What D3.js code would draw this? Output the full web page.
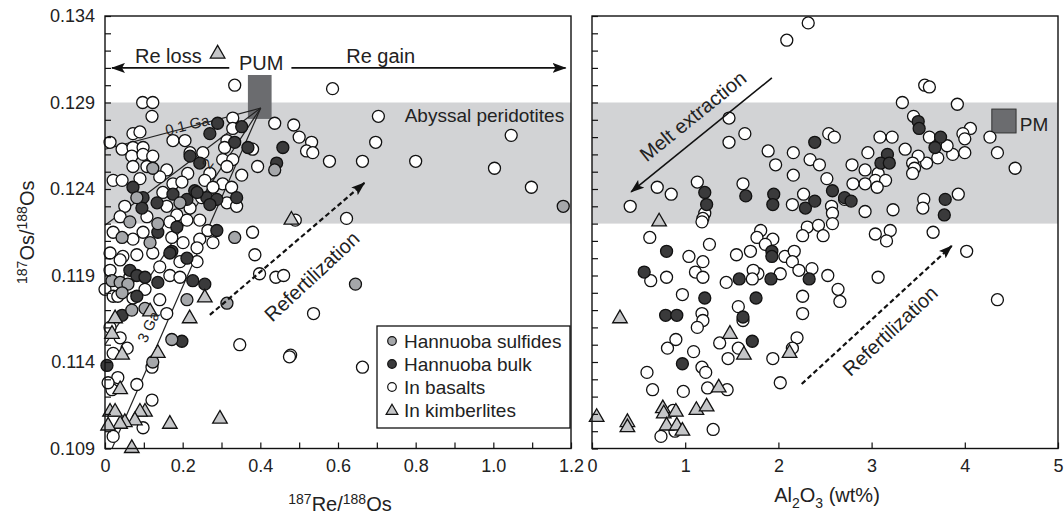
<!DOCTYPE html>
<html>
<head>
<meta charset="utf-8">
<script src="https://cdn.jsdelivr.net/npm/d3@7"></script>
<style>
  body { margin: 0; background: #fff; }
  svg text { font-family: "Liberation Sans", Arial, sans-serif; fill: #222; }
</style>
</head>
<body>
<script>
// ---- data ----
// left panel: [187Re/188Os, 187Os/188Os]
var leftBasalts = [
  [0.334,0.1300],[0.097,0.1290],[0.123,0.1290],[0.121,0.1282],[0.437,0.1278],[0.486,0.1277],
  [0.500,0.1270],[0.532,0.1267],[0.519,0.1262],[0.535,0.1261],[0.586,0.1298],[0.704,0.1282],
  [0.697,0.1267],[0.578,0.1256],[0.663,0.1256],[0.800,0.1256],[1.003,0.1252],[1.046,0.1271],
  [1.098,0.1241],[0.622,0.1223],[0.490,0.1222],[0.380,0.1215],[0.386,0.1202],[0.398,0.1191],
  [0.440,0.1189],[0.460,0.1190],[0.537,0.1168],[0.478,0.1144],[0.663,0.1137],[0.347,0.1150],
  [0.475,0.1143],[0.329,0.1281],[0.329,0.1275],[0.314,0.1268],[0.380,0.1263],[0.013,0.1267],
  [0.072,0.1272],[0.090,0.1273],[0.175,0.1268],[0.206,0.1268],[0.044,0.1263],[0.072,0.1264],
  [0.098,0.1264],[0.069,0.1259],[0.098,0.1260],[0.123,0.1259],[0.219,0.1261],[0.252,0.1261],
  [0.308,0.1264],[0.303,0.1257],[0.329,0.1257],[0.314,0.1253],[0.393,0.1253],[0.072,0.1253],
  [0.108,0.1253],[0.159,0.1251],[0.141,0.1247],[0.021,0.1245],[0.044,0.1245],[0.090,0.1246],
  [0.213,0.1249],[0.270,0.1249],[0.257,0.1245],[0.352,0.1248],[0.303,0.1243],[0.278,0.1241],
  [0.326,0.1241],[0.175,0.1243],[0.198,0.1244],[0.149,0.1238],[0.249,0.1235],[0.314,0.1232],
  [0.339,0.1230],[0.051,0.1230],[0.159,0.1230],[0.219,0.1229],[0.039,0.1224],[0.108,0.1224],
  [0.185,0.1225],[0.167,0.1221],[0.211,0.1222],[0.244,0.1222],[0.265,0.1216],[0.021,0.1215],
  [0.072,0.1211],[0.098,0.1215],[0.172,0.1212],[0.201,0.1209],[0.244,0.1211],[0.237,0.1206],
  [0.278,0.1209],[0.013,0.1203],[0.046,0.1201],[0.082,0.1202],[0.123,0.1203],[0.237,0.1198],
  [0.193,0.1198],[0.013,0.1193],[0.064,0.1189],[0.141,0.1195],[0.167,0.1190],[0.193,0.1189],
  [0.000,0.1182],[0.021,0.1178],[0.013,0.1160],[0.039,0.1154],[0.057,0.1148],[0.021,0.1145],
  [0.033,0.1131],[0.018,0.1124],[0.008,0.1128],[0.082,0.1127],[0.121,0.1118],[0.121,0.1137],
  [0.159,0.1168],[0.098,0.1102],[0.021,0.1097],[0.033,0.1178],[0.072,0.1177],[0.103,0.1182],
  [0.141,0.1176],[0.039,0.1199]
];
var leftBulk = [
  [0.290,0.1278],[0.352,0.1276],[0.270,0.1272],[0.334,0.1267],[0.368,0.1264],[0.458,0.1264],
  [0.442,0.1255],[0.219,0.1259],[0.244,0.1255],[0.072,0.1241],[0.098,0.1235],[0.134,0.1232],
  [0.175,0.1237],[0.211,0.1234],[0.231,0.1239],[0.262,0.1235],[0.288,0.1234],[0.270,0.1231],
  [0.339,0.1235],[0.095,0.1229],[0.288,0.1216],[0.136,0.1215],[0.185,0.1218],[0.172,0.1204],
  [0.211,0.1200],[0.167,0.1203],[0.064,0.1193],[0.082,0.1190],[0.103,0.1189],[0.136,0.1186],
  [0.082,0.1178],[0.226,0.1187],[0.257,0.1185],[0.044,0.1167],[0.005,0.1138],[0.198,0.1152],
  [0.237,0.1238]
];
var leftSulfides = [
  [0.123,0.1252],[0.437,0.1251],[0.082,0.1235],[0.193,0.1232],[0.064,0.1221],[0.136,0.1220],
  [0.334,0.1212],[0.044,0.1212],[0.116,0.1209],[0.018,0.1187],[0.039,0.1186],[0.059,0.1185],
  [0.044,0.1180],[0.211,0.1176],[0.314,0.1174],[0.069,0.1170],[0.103,0.1171],[0.172,0.1153],
  [0.123,0.1140],[0.645,0.1185],[1.180,0.1230]
];
var leftKimberlites = [
  [0.290,0.1319],[0.480,0.1223],[0.257,0.1178],[0.218,0.1166],[0.136,0.1146],[0.103,0.1112],
  [0.090,0.1112],[0.167,0.1105],[0.296,0.1108],[0.077,0.1107],[0.051,0.1106],[0.039,0.1105],
  [0.069,0.1091],[0.013,0.1112],[0.008,0.1104],[0.026,0.1112],[0.039,0.1125],[0.044,0.1145],
  [0.018,0.1157],[0.026,0.1166],[0.116,0.1170]
];

// right panel: [Al2O3 wt%, 187Os/188Os]
var rightBasalts = [
  [2.32,0.1336],[2.09,0.1326],[1.47,0.1281],[1.64,0.1272],[1.47,0.1267],[1.89,0.1262],
  [2.16,0.1261],[1.97,0.1254],[2.34,0.1257],[2.44,0.1254],[2.16,0.1248],[2.54,0.1272],
  [2.60,0.1270],[2.52,0.1246],[0.70,0.1241],[0.85,0.1237],[0.41,0.1230],[1.13,0.1244],
  [1.21,0.1226],[1.19,0.1223],[1.62,0.1243],[2.15,0.1231],[2.27,0.1237],[2.57,0.1230],
  [2.58,0.1226],[2.58,0.1220],[0.62,0.1212],[1.81,0.1216],[1.94,0.1211],[1.77,0.1212],
  [2.31,0.1218],[2.43,0.1219],[2.26,0.1213],[2.48,0.1213],[1.18,0.1221],[1.04,0.1201],
  [1.19,0.1198],[1.26,0.1208],[0.63,0.1187],[0.80,0.1189],[1.11,0.1192],[1.19,0.1189],
  [1.44,0.1186],[1.55,0.1202],[1.70,0.1204],[1.86,0.1208],[2.07,0.1201],[2.17,0.1204],
  [2.15,0.1198],[2.22,0.1193],[2.36,0.1194],[2.02,0.1191],[1.78,0.1191],[1.73,0.1193],
  [1.72,0.1188],[2.53,0.1190],[2.64,0.1182],[2.66,0.1175],[0.97,0.1179],[2.26,0.1178],
  [2.26,0.1168],[1.57,0.1172],[1.62,0.1164],[1.18,0.1168],[1.19,0.1164],[1.13,0.1160],
  [0.90,0.1153],[0.81,0.1148],[1.37,0.1151],[1.57,0.1148],[1.46,0.1142],[1.94,0.1142],
  [1.09,0.1146],[1.18,0.1137],[1.22,0.1134],[0.59,0.1134],[2.20,0.1154],[2.15,0.1148],
  [2.02,0.1128],[0.65,0.1124],[0.98,0.1123],[1.24,0.1125],[1.45,0.1124],[0.87,0.1112],
  [0.89,0.1100],[0.74,0.1097],[1.30,0.1101],
  [3.57,0.1300],[3.62,0.1299],[3.33,0.1290],[3.92,0.1289],[3.45,0.1282],[4.06,0.1275],
  [3.98,0.1272],[4.00,0.1269],[4.27,0.1270],[4.35,0.1261],[4.54,0.1252],[4.00,0.1261],
  [3.87,0.1260],[3.62,0.1270],[3.81,0.1265],[3.71,0.1258],[3.59,0.1255],[3.50,0.1259],
  [3.44,0.1255],[3.46,0.1252],[3.44,0.1249],[3.36,0.1263],[3.22,0.1270],[3.09,0.1270],
  [2.96,0.1261],[2.93,0.1251],[2.79,0.1254],[3.07,0.1249],[3.04,0.1245],[3.15,0.1245],
  [3.06,0.1241],[2.93,0.1243],[2.80,0.1243],[2.71,0.1234],[2.93,0.1227],[3.23,0.1228],
  [3.56,0.1234],[3.55,0.1229],[3.93,0.1237],[3.04,0.1214],[3.20,0.1216],[3.16,0.1210],
  [3.66,0.1215],[4.02,0.1204],[3.07,0.1189],[4.35,0.1176]
];
var rightBulk = [
  [2.39,0.1267],[2.58,0.1239],[1.21,0.1238],[1.23,0.1231],[1.65,0.1236],[1.95,0.1237],
  [1.94,0.1231],[2.29,0.1229],[2.39,0.1233],[0.80,0.1204],[1.93,0.1204],[1.93,0.1201],
  [0.56,0.1192],[1.58,0.1188],[1.92,0.1188],[2.33,0.1188],[1.21,0.1177],[1.76,0.1177],
  [1.62,0.1166],[0.79,0.1167],[0.91,0.1167],[1.72,0.1152],[0.97,0.1139],[3.50,0.1279],
  [3.51,0.1275],[3.74,0.1270],[3.68,0.1264],[3.17,0.1260],[3.10,0.1255],[3.19,0.1255],
  [2.71,0.1235],[2.78,0.1233],[3.79,0.1234],[3.78,0.1225]
];
var rightKimberlites = [
  [0.72,0.1222],[0.30,0.1166],[1.48,0.1157],[1.63,0.1145],[2.12,0.1146],[1.36,0.1126],
  [0.05,0.1109],[0.38,0.1106],[0.38,0.1103],[0.76,0.1114],[0.77,0.1111],[0.90,0.1112],
  [1.12,0.1113],[1.23,0.1115],[0.80,0.1104],[0.91,0.1104],[0.97,0.1101]
];

// reference boxes and model lines
var abyssalBand = [0.122, 0.129];
var pumBox = {x: [0.368, 0.429], y: [0.12805, 0.13059]};
var pmBox = {x: [4.29, 4.55], y: [0.12724, 0.12862]};
var isoVertex = [0.401, 0.12868];
var isoEnds = [[0, 0.1263], [0, 0.1219], [0, 0.1150], [0.018, 0.1090]];

var yTicks = d3.range(26).map(i => 0.109 + i * 0.001);
var xLeftTicks = d3.range(13).map(i => i * 0.1);
var xRightTicks = [0, 1, 2, 3, 4, 5];

var legendItems = ["Hannuoba sulfides", "Hannuoba bulk", "In basalts", "In kimberlites"];

// ---- layout ----
var W = 1064, H = 519;
var plotTop = 16, plotBottom = 448.5;

var svg = d3.select("body").append("svg")
    .attr("width", W)
    .attr("height", H);

var defs = svg.append("defs");
defs.append("marker")
    .attr("id", "arrow")
    .attr("viewBox", "0 0 14 10")
    .attr("refX", 13).attr("refY", 5)
    .attr("markerWidth", 14).attr("markerHeight", 10)
    .attr("markerUnits", "userSpaceOnUse")
    .attr("orient", "auto")
    .append("path")
    .attr("d", "M0,0 L14,5 L0,10 L3,5 Z")
    .attr("fill", "#111");

var y = d3.scaleLinear().domain([0.109, 0.134]).range([plotBottom, plotTop]);
var xL = d3.scaleLinear().domain([0, 1.2]).range([105, 571]);
var xR = d3.scaleLinear().domain([0, 5]).range([592, 1058]);

function panelBase(x) {
    var r = x.range();
    svg.append("rect")
        .attr("x", r[0]).attr("width", r[1] - r[0])
        .attr("y", y(abyssalBand[1]))
        .attr("height", y(abyssalBand[0]) - y(abyssalBand[1]))
        .attr("fill", "#d2d3d5");
}
panelBase(xL);
panelBase(xR);

// PUM box and isochrons
svg.append("rect")
    .attr("x", xL(pumBox.x[0])).attr("width", xL(pumBox.x[1]) - xL(pumBox.x[0]))
    .attr("y", y(pumBox.y[1])).attr("height", y(pumBox.y[0]) - y(pumBox.y[1]))
    .attr("fill", "#6b6c6f");

isoEnds.forEach(e => {
    svg.append("line")
        .attr("x1", xL(isoVertex[0])).attr("y1", y(isoVertex[1]))
        .attr("x2", xL(e[0])).attr("y2", y(e[1]))
        .attr("stroke", "#222").attr("stroke-width", 1.2);
});

// PM box
svg.append("rect")
    .attr("x", xR(pmBox.x[0])).attr("width", xR(pmBox.x[1]) - xR(pmBox.x[0]))
    .attr("y", y(pmBox.y[1])).attr("height", y(pmBox.y[0]) - y(pmBox.y[1]))
    .attr("fill", "#6b6c6f").attr("stroke", "#333").attr("stroke-width", 1);

// ---- points ----
var tri = d3.symbol().type(d3.symbolTriangle).size(92);

function drawCircles(data, x, fill) {
    svg.append("g").selectAll("circle")
        .data(data).enter().append("circle")
        .attr("cx", d => x(d[0]))
        .attr("cy", d => y(d[1]))
        .attr("r", 6)
        .attr("fill", fill)
        .attr("stroke", "#111")
        .attr("stroke-width", 1.3);
}
function drawTriangles(data, x) {
    svg.append("g").selectAll("path")
        .data(data).enter().append("path")
        .attr("d", tri)
        .attr("transform", d => "translate(" + x(d[0]) + "," + (y(d[1]) + 1.5) + ")")
        .attr("fill", "#c5c6c8")
        .attr("stroke", "#111")
        .attr("stroke-width", 1.3);
}

drawCircles(leftBasalts, xL, "#fff");
drawCircles(leftBulk, xL, "#3a3a3b");
drawCircles(leftSulfides, xL, "#a5a7aa");
drawTriangles(leftKimberlites, xL);

drawCircles(rightBasalts, xR, "#fff");
drawCircles(rightBulk, xR, "#3a3a3b");
drawTriangles(rightKimberlites, xR);

// ---- axes ----
function styleAxis(g) {
    g.select(".domain").remove();
    g.selectAll(".tick line").attr("stroke", "#111").attr("stroke-width", 1.2);
    g.selectAll("text").attr("font-size", "18px").attr("fill", "#222")
        .attr("font-family", "Liberation Sans, Arial, sans-serif");
}

svg.append("g")
    .attr("transform", "translate(" + xL.range()[0] + ",0)")
    .call(d3.axisLeft(y).tickValues(yTicks).tickSize(-6).tickPadding(10)
        .tickFormat((d, i) => i % 5 === 0 ? d3.format(".3f")(d) : ""))
    .call(styleAxis);

svg.append("g")
    .attr("transform", "translate(" + xR.range()[0] + ",0)")
    .call(d3.axisLeft(y).tickValues(yTicks).tickSize(-6).tickFormat(""))
    .call(styleAxis);

svg.append("g")
    .attr("transform", "translate(0," + plotBottom + ")")
    .call(d3.axisBottom(xL).tickValues(xLeftTicks).tickSize(-6).tickPadding(11)
        .tickFormat((d, i) => i % 2 ? "" : (i === 0 ? "0" : d3.format(".1f")(d))))
    .call(styleAxis);

svg.append("g")
    .attr("transform", "translate(0," + plotBottom + ")")
    .call(d3.axisBottom(xR).tickValues(xRightTicks).tickSize(-6).tickPadding(11)
        .tickFormat(d3.format("d")))
    .call(styleAxis);

[xL, xR].forEach(x => {
    var r = x.range();
    svg.append("rect")
        .attr("x", r[0]).attr("y", plotTop)
        .attr("width", r[1] - r[0]).attr("height", plotBottom - plotTop)
        .attr("fill", "none").attr("stroke", "#111").attr("stroke-width", 1.4);
});

// ---- axis titles ----
var yTitle = svg.append("text")
    .attr("transform", "translate(34," + ((plotTop + plotBottom) / 2) + ") rotate(-90)")
    .attr("text-anchor", "middle")
    .attr("font-size", "20px");
yTitle.append("tspan").attr("font-size", "14px").attr("dy", -7).text("187");
yTitle.append("tspan").attr("dy", 7).text("Os/");
yTitle.append("tspan").attr("font-size", "14px").attr("dy", -7).text("188");
yTitle.append("tspan").attr("dy", 7).text("Os");

var xTitleL = svg.append("text")
    .attr("x", (xL.range()[0] + xL.range()[1]) / 2 + 2)
    .attr("y", 511)
    .attr("text-anchor", "middle")
    .attr("font-size", "20px");
xTitleL.append("tspan").attr("font-size", "14px").attr("dy", -7).text("187");
xTitleL.append("tspan").attr("dy", 7).text("Re/");
xTitleL.append("tspan").attr("font-size", "14px").attr("dy", -7).text("188");
xTitleL.append("tspan").attr("dy", 7).text("Os");

var xTitleR = svg.append("text")
    .attr("x", (xR.range()[0] + xR.range()[1]) / 2 + 2)
    .attr("y", 502)
    .attr("text-anchor", "middle")
    .attr("font-size", "20px");
xTitleR.append("tspan").text("Al");
xTitleR.append("tspan").attr("font-size", "14px").attr("dy", 6).text("2");
xTitleR.append("tspan").attr("dy", -6).text("O");
xTitleR.append("tspan").attr("font-size", "14px").attr("dy", 6).text("3");
xTitleR.append("tspan").attr("dy", -6).text(" (wt%)");

// ---- annotations ----
function arrow(x, x1, y1, x2, y2, dashed) {
    svg.append("line")
        .attr("x1", x(x1)).attr("y1", y(y1))
        .attr("x2", x(x2)).attr("y2", y(y2))
        .attr("stroke", "#111").attr("stroke-width", dashed ? 2.2 : 1.6)
        .attr("stroke-dasharray", dashed ? "5,3" : null)
        .attr("marker-end", "url(#arrow)");
}
function label(x, px, py, txt, size, angle, anchor) {
    svg.append("text")
        .attr("transform", "translate(" + x(px) + "," + y(py) + ")" + (angle ? " rotate(" + angle + ")" : ""))
        .attr("text-anchor", anchor || "middle")
        .attr("font-size", size + "px")
        .text(txt);
}

arrow(xL, 0.32, 0.1310, 0.018, 0.1310, false);
arrow(xL, 0.48, 0.1310, 1.186, 0.1310, false);
label(xL, 0.163, 0.13128, "Re loss", 20);
label(xL, 0.402, 0.13090, "PUM", 20);
label(xL, 0.71, 0.13128, "Re gain", 20);
label(xL, 0.977, 0.12785, "Abyssal peridotites", 19);
label(xL, 0.215, 0.12740, "0.1 Ga", 15, -14);
label(xL, 0.275, 0.12530, "2", 15, -55);
label(xL, 0.124, 0.11590, "3 Ga", 15, -65);

arrow(xL, 0.27, 0.11672, 0.668, 0.12435, true);
label(xL, 0.545, 0.11865, "Refertilization", 20, -43);

// legend
var lg = svg.append("g").attr("transform", "translate(377,326)");
lg.append("rect").attr("width", 193).attr("height", 102)
    .attr("fill", "#fff").attr("stroke", "#111").attr("stroke-width", 1.3);
var legFill = ["#a5a7aa", "#3a3a3b", "#fff"];
legendItems.forEach((t, i) => {
    var cy = 15 + i * 23;
    if (i < 3) {
        lg.append("circle").attr("cx", 15).attr("cy", cy).attr("r", 4.3)
            .attr("fill", legFill[i]).attr("stroke", "#111").attr("stroke-width", 1.2);
    } else {
        lg.append("path").attr("d", d3.symbol().type(d3.symbolTriangle).size(60))
            .attr("transform", "translate(15," + (cy + 1) + ")")
            .attr("fill", "#c5c6c8").attr("stroke", "#111").attr("stroke-width", 1.2);
    }
    lg.append("text").attr("x", 27).attr("y", cy + 6.5)
        .attr("font-size", "19px").text(t);
});

// right panel annotations
arrow(xR, 1.93, 0.13042, 0.42, 0.12383, false);
label(xR, 1.13, 0.12790, "Melt extraction", 20, -39);
svg.append("text")
    .attr("x", xR(4.59)).attr("y", y(0.12735))
    .attr("font-size", "19px").text("PM");

arrow(xR, 2.25, 0.11273, 3.86, 0.12071, true);
label(xR, 3.25, 0.11550, "Refertilization", 20, -43);
</script>
</body>
</html>
